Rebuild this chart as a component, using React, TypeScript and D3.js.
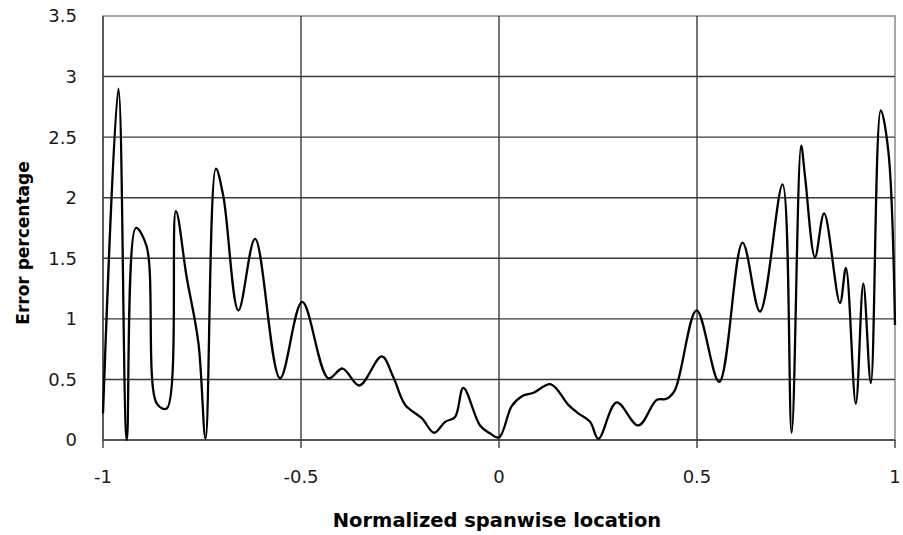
import React from "react";
import * as d3 from "d3";

// Spanwise stations (normalized, -1 tip to +1 tip)
const spanX: number[] = [
  -1, -0.961, -0.94, -0.917, -0.89, -0.864, -0.839, -0.816, -0.789, -0.759,
  -0.741, -0.715, -0.696, -0.658, -0.616, -0.553, -0.497, -0.431, -0.395,
  -0.353, -0.296, -0.267, -0.237, -0.195, -0.164, -0.136, -0.111, -0.09,
  -0.048, -0.023, 0.0, 0.032, 0.057, 0.087, 0.131, 0.175, 0.2, 0.23, 0.251,
  0.297, 0.352, 0.398, 0.423, 0.444, 0.499, 0.556, 0.615, 0.659, 0.716,
  0.739, 0.763, 0.773, 0.798, 0.821, 0.861, 0.876, 0.901, 0.92, 0.939,
  0.964, 0.983, 1.0,
];

// Error percentage at each station
const errorPct: number[] = [
  0.22, 2.9, 0.0, 1.75, 1.6, 0.3, 0.26, 1.89, 1.35, 0.8,
  0.01, 2.24, 2.01, 1.07, 1.66, 0.51, 1.14, 0.51, 0.59,
  0.45, 0.69, 0.52, 0.29, 0.18, 0.06, 0.15, 0.19, 0.43,
  0.12, 0.055, 0.02, 0.28, 0.36, 0.39, 0.46, 0.29, 0.22, 0.15, 0.01,
  0.31, 0.12, 0.33, 0.34, 0.41, 1.07, 0.48, 1.63, 1.06, 2.11,
  0.06, 2.43, 2.17, 1.51, 1.87, 1.13, 1.42, 0.3, 1.29, 0.47,
  2.72, 2.39, 0.95,
];

const xTicks: number[] = [-1, -0.5, 0, 0.5, 1];
const yTicks: number[] = [0, 0.5, 1, 1.5, 2, 2.5, 3, 3.5];

const W = 903;
const H = 535;
const plot = { left: 103, right: 895, top: 16, bottom: 440 };

export default function App() {
  const x = d3.scaleLinear().domain([-1, 1]).range([plot.left, plot.right]);
  const y = d3.scaleLinear().domain([0, 3.5]).range([plot.bottom, plot.top]);

  const points: [number, number][] = spanX.map((s, i) => [s, errorPct[i]]);
  const line = d3
    .line<[number, number]>()
    .x((d) => x(d[0]))
    .y((d) => y(d[1]))
    .curve(d3.curveCatmullRom.alpha(0.5));

  const font = "'DejaVu Sans', Verdana, sans-serif";
  const grid = "#3a3a3a";

  return (
    <svg
      width={W}
      height={H}
      style={{ position: "absolute", left: 0, top: 0, background: "#fff" }}
    >
      <rect x={0} y={0} width={W} height={H} fill="#fff" />
      {/* frame */}
      <rect
        x={plot.left}
        y={plot.top}
        width={plot.right - plot.left}
        height={plot.bottom - plot.top}
        fill="none"
        stroke="#8a8a8a"
        strokeWidth={1.5}
      />
      {/* horizontal gridlines */}
      {yTicks.slice(1, -1).map((t) => (
        <line
          key={"gy" + t}
          x1={plot.left}
          x2={plot.right}
          y1={y(t)}
          y2={y(t)}
          stroke={grid}
          strokeWidth={1.4}
        />
      ))}
      {/* vertical gridlines */}
      {xTicks.slice(1, -1).map((t) => (
        <line
          key={"gx" + t}
          x1={x(t)}
          x2={x(t)}
          y1={plot.top}
          y2={plot.bottom}
          stroke={grid}
          strokeWidth={1.4}
        />
      ))}
      {/* axes */}
      <line x1={plot.left} x2={plot.left} y1={plot.top} y2={plot.bottom} stroke={grid} strokeWidth={1.4} />
      <line x1={plot.left} x2={plot.right} y1={plot.bottom} y2={plot.bottom} stroke={grid} strokeWidth={1.4} />
      {xTicks.map((t) => (
        <line
          key={"tx" + t}
          x1={x(t)}
          x2={x(t)}
          y1={plot.bottom}
          y2={plot.bottom + 8}
          stroke={grid}
          strokeWidth={1.4}
        />
      ))}
      {/* data curve */}
      <path d={line(points) ?? ""} fill="none" stroke="#000" strokeWidth={2.3} strokeLinejoin="round" />
      {/* tick labels */}
      {xTicks.map((t) => (
        <text
          key={"lx" + t}
          x={x(t)}
          y={483}
          textAnchor="middle"
          fontFamily={font}
          fontSize={18}
          fill="#1a1a1a"
        >
          {String(t)}
        </text>
      ))}
      {yTicks.map((t) => (
        <text
          key={"ly" + t}
          x={77}
          y={y(t)}
          dy="0.36em"
          textAnchor="end"
          fontFamily={font}
          fontSize={18}
          fill="#1a1a1a"
        >
          {String(t)}
        </text>
      ))}
      {/* axis titles */}
      <text
        x={497}
        y={527}
        textAnchor="middle"
        fontFamily={font}
        fontWeight="bold"
        fontSize={19.5}
        fill="#000"
      >
        Normalized spanwise location
      </text>
      <text
        transform="translate(29,243) rotate(-90)"
        textAnchor="middle"
        fontFamily={font}
        fontWeight="bold"
        fontSize={17}
        fill="#000"
      >
        Error percentage
      </text>
    </svg>
  );
}
